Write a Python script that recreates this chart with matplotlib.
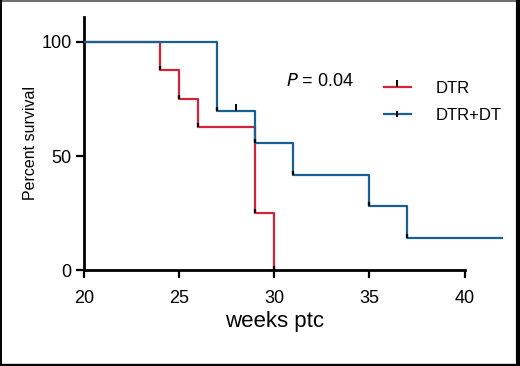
import matplotlib
matplotlib.use('Agg')
import matplotlib.pyplot as plt
from matplotlib.lines import Line2D

# Kaplan-Meier step data
dtr_weeks = [20, 24, 25, 26, 29, 30]
dtr_surv = [100, 87.5, 75, 62.5, 25, 0]

dtrdt_weeks = [20, 27, 29, 31, 35, 37, 42]
dtrdt_surv = [100, 69.7, 55.8, 41.8, 27.9, 13.9, 13.9]

censor_weeks = [28]
censor_surv = [69.7]

x_ticks = [20, 25, 30, 35, 40]
y_ticks = [0, 50, 100]

red = '#d0243a'
blue = '#17608f'

plt.rcParams['font.family'] = ['Liberation Sans', 'DejaVu Sans']

fig = plt.figure(figsize=(5.2, 3.66), dpi=100)
ax = fig.add_axes([0.1615, 0.262, 0.805, 0.692])

ax.step(dtr_weeks, dtr_surv, where='post', color=red, lw=1.6, zorder=3)
ax.step(dtrdt_weeks, dtrdt_surv, where='post', color=blue, lw=1.6, zorder=3)

# small dark marks at the bottom of each drop
ax.plot(dtr_weeks[1:], dtr_surv[1:], ls='none', marker=2, ms=3, mew=1.6,
        color='black', zorder=4)
ax.plot(dtrdt_weeks[1:-1], dtrdt_surv[1:-1], ls='none', marker=2, ms=3, mew=1.6,
        color='black', zorder=4)
ax.plot(censor_weeks, censor_surv, ls='none', marker=2, ms=5, mew=1.4,
        color='black', zorder=4)

ax.set_xlim(20, 42)
ax.set_ylim(0, 111)
ax.spines['top'].set_visible(False)
ax.spines['right'].set_visible(False)
ax.spines['left'].set_linewidth(2)
ax.spines['bottom'].set_linewidth(2)
ax.spines['bottom'].set_bounds(20, 40)
ax.set_xticks(x_ticks)
ax.set_yticks(y_ticks)
ax.tick_params(direction='out', length=6, width=1.6, labelsize=13)
ax.tick_params(axis='x', pad=8)
ax.tick_params(axis='y', pad=3)

ax.set_xlabel('weeks ptc', fontsize=16, labelpad=3)
ax.xaxis.label.set_x(10 / 22)
ax.set_ylabel('Percent survival', fontsize=11.5, labelpad=2,
              family=['Liberation Sans Narrow', 'Liberation Sans'])

ax.text(30.6, 82.5, r'$\it{P}$ = 0.04', fontsize=13, va='center')

handles = [
    Line2D([], [], color=red, lw=1.6, marker=2, mec='black', ms=5, mew=1.4),
    Line2D([], [], color=blue, lw=1.6, marker='|', mec='black', ms=5, mew=1.4),
]
fig.legend(handles, ['DTR', 'DTR+DT'], loc='center left',
           bbox_to_anchor=(384 / 520, (366 - 102) / 366),
           frameon=False, fontsize=12, handlelength=1.6, handletextpad=1.5,
           labelspacing=0.7, borderpad=0, borderaxespad=0)

# figure frame: thin top/left, heavier right/bottom
fig.add_artist(Line2D([0.001, 0.999], [0.998, 0.998], transform=fig.transFigure,
                      color='#555555', lw=1.2))
fig.add_artist(Line2D([0.002, 0.002], [0, 1], transform=fig.transFigure,
                      color='black', lw=1.4))
fig.add_artist(Line2D([0.996, 0.996], [0, 1], transform=fig.transFigure,
                      color='black', lw=3))
fig.add_artist(Line2D([0, 1], [0.004, 0.004], transform=fig.transFigure,
                      color='black', lw=2.4))

fig.savefig('out.png', dpi=100)
